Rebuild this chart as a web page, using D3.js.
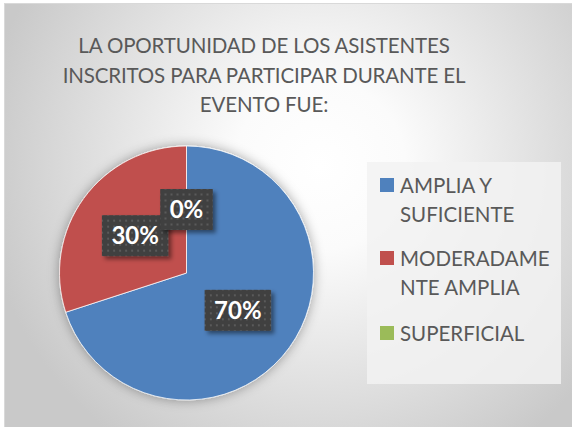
<!DOCTYPE html>
<html>
<head>
<meta charset="utf-8">
<script src="https://cdn.jsdelivr.net/npm/d3@7"></script>
<style>
  html, body { margin: 0; padding: 0; background: #ffffff; }
  svg { display: block; }
</style>
</head>
<body>
<div id="chart"></div>
<script>
// ---- data ----
const titleLines = ["LA OPORTUNIDAD DE LOS ASISTENTES", "INSCRITOS PARA PARTICIPAR DURANTE EL", "EVENTO FUE:"];
const categories = ["AMPLIA Y SUFICIENTE", "MODERADAMENTE AMPLIA", "SUPERFICIAL"];
const legendLines = [["AMPLIA Y", "SUFICIENTE"], ["MODERADAME", "NTE AMPLIA"], ["SUPERFICIAL"]];
const values = [70, 30, 0];
const valueLabels = ["70%", "30%", "0%"];
const colors = ["#4f81bd", "#c0504d", "#9bbb59"];

// ---- layout ----
const W = 572, H = 427;
const svg = d3.select("#chart").append("svg").attr("width", W).attr("height", H);
const defs = svg.append("defs");

const grad = defs.append("radialGradient").attr("id", "bg")
  .attr("gradientUnits", "userSpaceOnUse")
  .attr("cx", 320).attr("cy", 165).attr("r", 340);
grad.append("stop").attr("offset", "0").attr("stop-color", "#ffffff");
grad.append("stop").attr("offset", "0.25").attr("stop-color", "#fbfbfb");
grad.append("stop").attr("offset", "1").attr("stop-color", "#c9c9c9");

const pieShadow = defs.append("filter").attr("id", "pieShadow")
  .attr("x", "-20%").attr("y", "-20%").attr("width", "140%").attr("height", "140%");
pieShadow.append("feDropShadow").attr("dx", 0).attr("dy", 0).attr("stdDeviation", 6)
  .attr("flood-color", "#000").attr("flood-opacity", 0.35);

const boxShadow = defs.append("filter").attr("id", "boxShadow")
  .attr("x", "-30%").attr("y", "-30%").attr("width", "160%").attr("height", "160%");
boxShadow.append("feDropShadow").attr("dx", 3).attr("dy", 3).attr("stdDeviation", 2)
  .attr("flood-color", "#000").attr("flood-opacity", 0.45);

const dots = defs.append("pattern").attr("id", "dots")
  .attr("patternUnits", "userSpaceOnUse").attr("width", 6).attr("height", 6);
dots.append("rect").attr("width", 6).attr("height", 6).attr("fill", "#404040");
dots.append("rect").attr("x", 2).attr("y", 2).attr("width", 2).attr("height", 2).attr("fill", "#5a5a5a");

// chart area
svg.append("rect").attr("x", 4.5).attr("y", 3.5).attr("width", W - 4).attr("height", H - 3)
  .attr("fill", "url(#bg)").attr("stroke", "#d9d9d9").attr("stroke-width", 1);

// title
const title = svg.append("text")
  .attr("font-family", "Lato, 'Open Sans', sans-serif")
  .attr("font-size", 20.5).attr("letter-spacing", -0.15)
  .attr("fill", "#595959").attr("text-anchor", "middle");
titleLines.forEach((t, i) => {
  title.append("tspan").attr("x", 264).attr("y", 53 + i * 29.5).text(t);
});

// pie
const cx = 186.5, cy = 273, R = 127;
const pie = d3.pie().sort(null).value(d => d).startAngle(0).endAngle(2 * Math.PI);
const arcs = pie(values);
const arc = d3.arc().innerRadius(0).outerRadius(R);
const gPie = svg.append("g").attr("transform", `translate(${cx},${cy})`);
gPie.append("g").attr("filter", "url(#pieShadow)")
  .selectAll("path").data(arcs).enter().append("path")
  .attr("d", arc)
  .attr("fill", (d, i) => colors[i])
  .attr("stroke", "#ffffff").attr("stroke-width", d => d.value > 0 ? 0.75 : 0);

// data labels
const labelG = gPie.append("g");
arcs.forEach((d, i) => {
  const [x, y] = arc.centroid(d);
  const g = labelG.append("g").attr("transform", `translate(${x},${y})`);
  const rect = g.append("rect").attr("fill", "url(#dots)").attr("filter", "url(#boxShadow)");
  const t = g.append("text")
    .attr("font-family", "Lato, 'Open Sans', sans-serif")
    .attr("font-weight", "bold").attr("font-size", 24)
    .attr("fill", "#ffffff").attr("text-anchor", "middle").attr("dy", "0.35em")
    .text(valueLabels[i]);
  const tw = t.node().getComputedTextLength();
  const bw = tw + 19, bh = 41;
  rect.attr("x", -bw / 2).attr("y", -bh / 2).attr("width", bw).attr("height", bh);
});

// legend
const lg = svg.append("g");
lg.append("rect").attr("x", 367).attr("y", 162).attr("width", 194).attr("height", 222)
  .attr("fill", "#f2f2f2").attr("fill-opacity", 0.85);
const itemTops = [185, 258, 333];
legendLines.forEach((lines, i) => {
  const y0 = itemTops[i];
  lg.append("rect").attr("x", 380).attr("y", y0 - 7).attr("width", 14).attr("height", 14)
    .attr("fill", colors[i]);
  const t = lg.append("text")
    .attr("font-family", "Lato, 'Open Sans', sans-serif")
    .attr("font-size", 20.5).attr("fill", "#595959");
  lines.forEach((s, j) => {
    t.append("tspan").attr("x", 400).attr("y", y0 + 7.5 + j * 29).text(s);
  });
});
</script>
</body>
</html>
